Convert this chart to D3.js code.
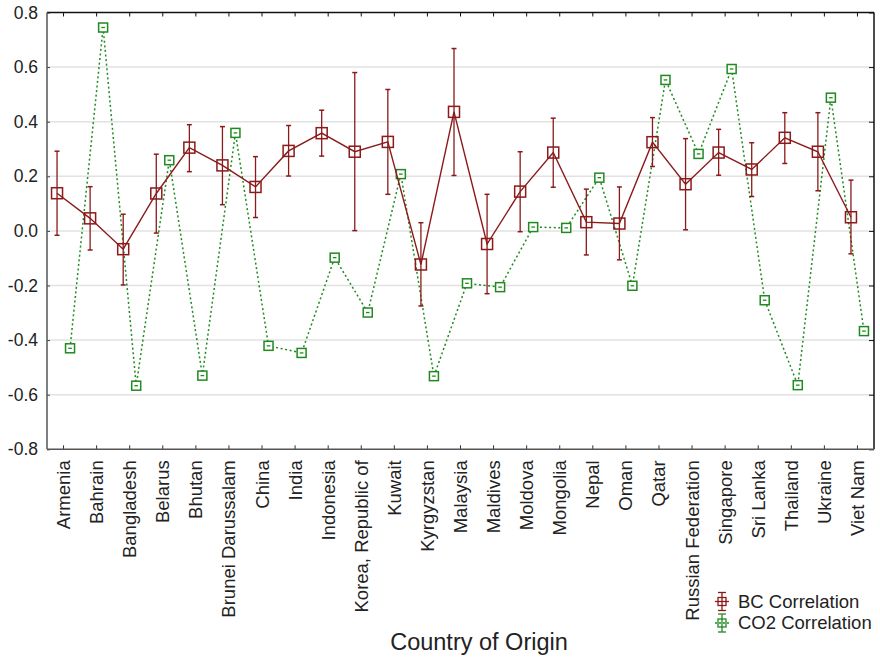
<!DOCTYPE html>
<html>
<head>
<meta charset="utf-8">
<script src="https://cdn.jsdelivr.net/npm/d3@7"></script>
<style>
  body { margin: 0; background: #fff; }
  svg { display: block; font-family: "Liberation Sans", Arial, sans-serif; }
</style>
</head>
<body>
<div id="chart"></div>
<script>
(function(){
  const width = 880,
        height = 658,
        left = 47, right = 874,
        top = 12.5, bottom = 449.3

  // data
  const countries = ['Armenia','Bahrain','Bangladesh','Belarus','Bhutan','Brunei Darussalam',
    'China','India','Indonesia','Korea, Republic of','Kuwait','Kyrgyzstan','Malaysia',
    'Maldives','Moldova','Mongolia','Nepal','Oman','Qatar','Russian Federation',
    'Singapore','Sri Lanka','Thailand','Ukraine','Viet Nam']

  const bcMean  = [0.138, 0.046, -0.067, 0.137, 0.305, 0.240, 0.161, 0.293, 0.358, 0.290,
                   0.326, -0.123, 0.436, -0.048, 0.144, 0.287, 0.032, 0.027, 0.325, 0.171,
                   0.287, 0.225, 0.341, 0.290, 0.050]
  const bcLow   = [-0.016, -0.070, -0.198, -0.008, 0.217, 0.096, 0.049, 0.201, 0.274, 0.001,
                   0.134, -0.275, 0.203, -0.230, -0.003, 0.160, -0.088, -0.106, 0.236, 0.004,
                   0.204, 0.126, 0.247, 0.147, -0.084]
  const bcHigh  = [0.292, 0.162, 0.061, 0.281, 0.389, 0.382, 0.272, 0.386, 0.442, 0.580,
                   0.518, 0.030, 0.668, 0.134, 0.290, 0.413, 0.153, 0.161, 0.415, 0.338,
                   0.372, 0.323, 0.433, 0.433, 0.186]

  const co2Mean = [-0.430, 0.745, -0.567, 0.259, -0.530, 0.359, -0.421, -0.447, -0.098, -0.299,
                   0.208, -0.532, -0.192, -0.206, 0.014, 0.011, 0.195, -0.201, 0.553, 0.282,
                   0.593, -0.254, -0.565, 0.488, -0.367]

  const yTicks = [-0.8, -0.6, -0.4, -0.2, 0.0, 0.2, 0.4, 0.6, 0.8]
  const seriesNames = ['BC Correlation', 'CO2 Correlation']

  const bcColor = '#8b1a1a', co2Color = '#1f8a1f', ink = '#222'
  const font = '"Liberation Sans", Arial, sans-serif'

  var svg = d3.select('#chart').append('svg')
    .attr('width', width)
    .attr('height', height)

  var x = d3.scaleBand().domain(countries).range([left, right])
  var y = d3.scaleLinear().domain([-0.8, 0.8]).range([bottom, top])
  var cx = d => x(d) + x.bandwidth()/2

  // grid
  svg.append('g').selectAll('line').data(yTicks.slice(1, -1)).enter().append('line')
    .attr('x1', left).attr('x2', right)
    .attr('y1', d => y(d)).attr('y2', d => y(d))
    .attr('stroke', '#e2e2e2').attr('stroke-width', 1.5)

  // axes (ticks pointing in)
  var yAxis = svg.append('g').attr('transform', 'translate(' + left + ',0)')
    .call(d3.axisLeft(y).tickValues(yTicks).tickSize(-3).tickPadding(9)
      .tickFormat(d => d.toFixed(1)))
    .attr('font-family', font)
  yAxis.select('.domain').remove()
  yAxis.selectAll('text').attr('font-size', 17.5).attr('fill', ink)
  yAxis.selectAll('line').attr('stroke', '#444')

  var rAxis = svg.append('g').attr('transform', 'translate(' + right + ',0)')
    .call(d3.axisRight(y).tickValues(yTicks).tickSize(-5).tickFormat(''))
  rAxis.select('.domain').remove()
  rAxis.selectAll('line').attr('stroke', '#111')

  var tAxis = svg.append('g').attr('transform', 'translate(0,' + top + ')')
    .call(d3.axisTop(x).tickSize(-4).tickFormat(''))
  tAxis.select('.domain').remove()
  tAxis.selectAll('line').attr('stroke', '#111')

  var xAxis = svg.append('g').attr('transform', 'translate(0,' + bottom + ')')
    .call(d3.axisBottom(x).tickSize(-4))
    .attr('font-family', font)
  xAxis.select('.domain').remove()
  xAxis.selectAll('line').attr('stroke', '#333')
  xAxis.selectAll('text')
    .attr('font-size', 18.5).attr('fill', ink)
    .attr('transform', 'rotate(-90)')
    .attr('x', -11).attr('y', 0).attr('dy', '0.35em')
    .attr('text-anchor', 'end')

  // frame
  svg.append('line').attr('x1', left).attr('x2', right).attr('y1', top).attr('y2', top)
    .attr('stroke', '#111').attr('stroke-width', 1.5)
  svg.append('line').attr('x1', right).attr('x2', right).attr('y1', top).attr('y2', bottom)
    .attr('stroke', '#111').attr('stroke-width', 1.5)
  svg.append('line').attr('x1', left).attr('x2', left).attr('y1', top).attr('y2', bottom)
    .attr('stroke', '#555').attr('stroke-width', 1.5)
  svg.append('line').attr('x1', left).attr('x2', right).attr('y1', bottom).attr('y2', bottom)
    .attr('stroke', '#555').attr('stroke-width', 1.5)

  var bcOff = -6.5, co2Off = 6.5

  var bc = countries.map((c, i) => ({c: c, m: bcMean[i], lo: bcLow[i], hi: bcHigh[i]}))
  var co2 = countries.map((c, i) => ({c: c, m: co2Mean[i]}))

  // CO2 series
  svg.append('path').datum(co2)
    .attr('fill', 'none').attr('stroke', co2Color).attr('stroke-width', 1.5)
    .attr('stroke-dasharray', '2,2.6')
    .attr('d', d3.line().x(d => cx(d.c) + co2Off).y(d => y(d.m)))

  var g2 = svg.append('g').selectAll('g').data(co2).enter().append('g')
    .attr('transform', d => 'translate(' + (cx(d.c) + co2Off) + ',' + y(d.m) + ')')
  g2.append('rect').attr('x', -4.5).attr('y', -4.5).attr('width', 9).attr('height', 9)
    .attr('fill', '#fff').attr('stroke', co2Color).attr('stroke-width', 1.5)
  g2.append('line').attr('x1', -1.8).attr('x2', 1.8).attr('y1', 0).attr('y2', 0)
    .attr('stroke', co2Color).attr('stroke-width', 1.3)

  // BC series
  svg.append('path').datum(bc)
    .attr('fill', 'none').attr('stroke', bcColor).attr('stroke-width', 1.4)
    .attr('d', d3.line().x(d => cx(d.c) + bcOff).y(d => y(d.m)))

  var g1 = svg.append('g').selectAll('g').data(bc).enter().append('g')
    .attr('transform', d => 'translate(' + (cx(d.c) + bcOff) + ',0)')
  g1.append('line').attr('x1', 0).attr('x2', 0)
    .attr('y1', d => y(d.lo)).attr('y2', d => y(d.hi))
    .attr('stroke', bcColor).attr('stroke-width', 1.3)
  g1.append('line').attr('x1', -2.5).attr('x2', 2.5)
    .attr('y1', d => y(d.lo)).attr('y2', d => y(d.lo))
    .attr('stroke', bcColor).attr('stroke-width', 1.5)
  g1.append('line').attr('x1', -2.5).attr('x2', 2.5)
    .attr('y1', d => y(d.hi)).attr('y2', d => y(d.hi))
    .attr('stroke', bcColor).attr('stroke-width', 1.5)
  g1.append('rect').attr('x', -5.5).attr('y', d => y(d.m) - 5.5)
    .attr('width', 11).attr('height', 11)
    .attr('fill', 'none').attr('stroke', bcColor).attr('stroke-width', 1.5)

  // axis title
  svg.append('text').attr('x', 479).attr('y', 650)
    .attr('text-anchor', 'middle').attr('font-size', 23.5).attr('fill', ink)
    .text('Country of Origin')

  // legend
  var legend = svg.append('g').selectAll('g').data(seriesNames).enter().append('g')
    .attr('transform', (d, i) => 'translate(722,' + (601.5 + i*21.5) + ')')
  legend.append('line').attr('x1', 0).attr('x2', 0).attr('y1', -9).attr('y2', 9)
    .attr('stroke', (d, i) => i ? co2Color : bcColor).attr('stroke-width', 1.3)
  legend.append('line').attr('x1', -4).attr('x2', 4).attr('y1', -9).attr('y2', -9)
    .attr('stroke', (d, i) => i ? co2Color : bcColor).attr('stroke-width', 1.3)
  legend.append('line').attr('x1', -4).attr('x2', 4).attr('y1', 9).attr('y2', 9)
    .attr('stroke', (d, i) => i ? co2Color : bcColor).attr('stroke-width', 1.3)
  legend.append('line').attr('x1', -7).attr('x2', 7).attr('y1', 0).attr('y2', 0)
    .attr('stroke', (d, i) => i ? co2Color : bcColor).attr('stroke-width', 1.3)
    .attr('stroke-dasharray', (d, i) => i ? '2,2' : null)
  legend.append('rect').attr('x', -4).attr('y', -4).attr('width', 8).attr('height', 8)
    .attr('fill', 'none').attr('stroke', (d, i) => i ? co2Color : bcColor).attr('stroke-width', 1.3)
  legend.append('text').attr('x', 16).attr('y', 0).attr('dy', '0.35em')
    .attr('font-size', 18.5).attr('fill', ink)
    .text(d => d)
})()
</script>
</body>
</html>
